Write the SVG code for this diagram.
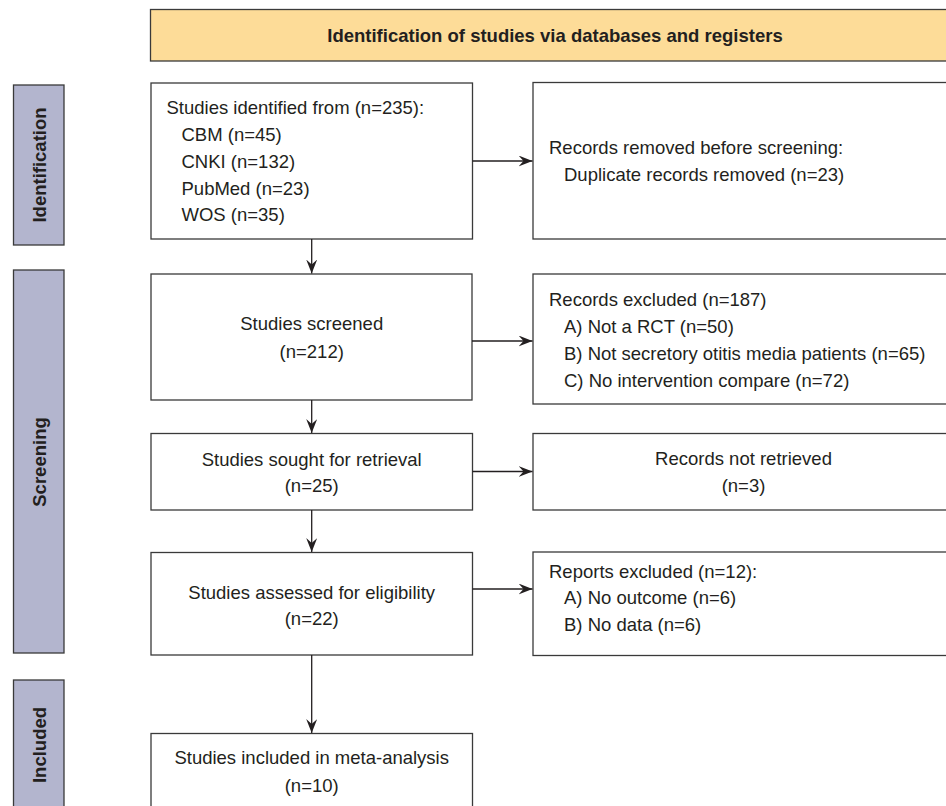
<svg xmlns="http://www.w3.org/2000/svg" width="946" height="806" viewBox="0 0 946 806">
<style>
  .box{fill:#ffffff;stroke:#3a3a3a;stroke-width:1.3}
  .bar{fill:#b3b5ce;stroke:#3a3a3a;stroke-width:1.3}
  .hdr{fill:#fddc98;stroke:#3a3a3a;stroke-width:1.3}
  .t{font-family:"Liberation Sans",Arial,sans-serif;font-size:18.5px;fill:#231f20}
  .c{text-anchor:middle}
  .b{font-weight:bold}
  .ln{stroke:#231f20;stroke-width:1.3;fill:none;marker-end:url(#ah)}
</style>
<defs>
  <marker id="ah" viewBox="0 0 14 11" refX="14" refY="5.5" markerWidth="14" markerHeight="11" markerUnits="userSpaceOnUse" orient="auto">
    <path d="M0,0 L14,5.5 L0,11 L5,5.5 Z" fill="#231f20"/>
  </marker>
</defs>
<rect width="946" height="806" fill="#ffffff"/>

<g id="header">
  <rect class="hdr" x="150.5" y="9.5" width="810" height="51.5"/>
  <text class="t c b" x="555" y="42">Identification of studies via databases and registers</text>
</g>

<g id="phase-identification">
  <rect class="bar" x="13.5" y="85" width="50.5" height="160"/>
  <text class="t c b" transform="translate(45.5,165) rotate(-90)">Identification</text>
</g>
<g id="phase-screening">
  <rect class="bar" x="13.5" y="270" width="50.5" height="383"/>
  <text class="t c b" transform="translate(45.5,462) rotate(-90)">Screening</text>
</g>
<g id="phase-included">
  <rect class="bar" x="13.5" y="680" width="50.5" height="140"/>
  <text class="t c b" transform="translate(45.5,745) rotate(-90)">Included</text>
</g>

<g id="identified">
  <rect class="box" x="151" y="83" width="321.5" height="156"/>
  <text class="t" x="166.5" y="113.5">Studies identified from (n=235):</text>
  <text class="t" x="181.5" y="140.5">CBM (n=45)</text>
  <text class="t" x="181.5" y="167.5">CNKI (n=132)</text>
  <text class="t" x="181.5" y="194.5">PubMed (n=23)</text>
  <text class="t" x="181.5" y="221">WOS (n=35)</text>
</g>
<g id="removed">
  <rect class="box" x="533" y="82.5" width="420" height="156.5"/>
  <text class="t" x="549" y="153.5">Records removed before screening:</text>
  <text class="t" x="564" y="181">Duplicate records removed (n=23)</text>
</g>

<g id="screened">
  <rect class="box" x="151" y="274" width="321" height="126"/>
  <text class="t c" x="311.7" y="330">Studies screened</text>
  <text class="t c" x="311.7" y="357.5">(n=212)</text>
</g>
<g id="excluded">
  <rect class="box" x="533" y="274" width="420" height="130"/>
  <text class="t" x="549" y="306">Records excluded (n=187)</text>
  <text class="t" x="564" y="333">A) Not a RCT (n=50)</text>
  <text class="t" x="564" y="360">B) Not secretory otitis media patients (n=65)</text>
  <text class="t" x="564" y="387">C) No intervention compare (n=72)</text>
</g>

<g id="sought">
  <rect class="box" x="151" y="433.5" width="321.5" height="76.5"/>
  <text class="t c" x="311.7" y="466">Studies sought for retrieval</text>
  <text class="t c" x="311.7" y="492">(n=25)</text>
</g>
<g id="not-retrieved">
  <rect class="box" x="533" y="433.5" width="420" height="76.5"/>
  <text class="t c" x="743.5" y="465">Records not retrieved</text>
  <text class="t c" x="743.5" y="492">(n=3)</text>
</g>

<g id="assessed">
  <rect class="box" x="151" y="552.5" width="321.5" height="102.5"/>
  <text class="t c" x="311.7" y="598.5">Studies assessed for eligibility</text>
  <text class="t c" x="311.7" y="625">(n=22)</text>
</g>
<g id="reports-excluded">
  <rect class="box" x="533" y="552" width="420" height="103.5"/>
  <text class="t" x="549" y="577.5">Reports excluded (n=12):</text>
  <text class="t" x="564" y="603.5">A) No outcome (n=6)</text>
  <text class="t" x="564" y="631">B) No data (n=6)</text>
</g>

<g id="included">
  <rect class="box" x="151" y="733.5" width="321.5" height="90"/>
  <text class="t c" x="311.7" y="764">Studies included in meta-analysis</text>
  <text class="t c" x="311.7" y="792">(n=10)</text>
</g>

<g id="connectors">
  <line class="ln" x1="311.7" y1="239" x2="311.7" y2="273.5"/>
  <line class="ln" x1="311.7" y1="400" x2="311.7" y2="433"/>
  <line class="ln" x1="311.7" y1="510" x2="311.7" y2="552"/>
  <line class="ln" x1="311.7" y1="655" x2="311.7" y2="733"/>
  <line class="ln" x1="472.5" y1="161" x2="532.5" y2="161"/>
  <line class="ln" x1="472" y1="341" x2="532.5" y2="341"/>
  <line class="ln" x1="472.5" y1="471.5" x2="532.5" y2="471.5"/>
  <line class="ln" x1="472.5" y1="589" x2="532.5" y2="589"/>
</g>
</svg>
